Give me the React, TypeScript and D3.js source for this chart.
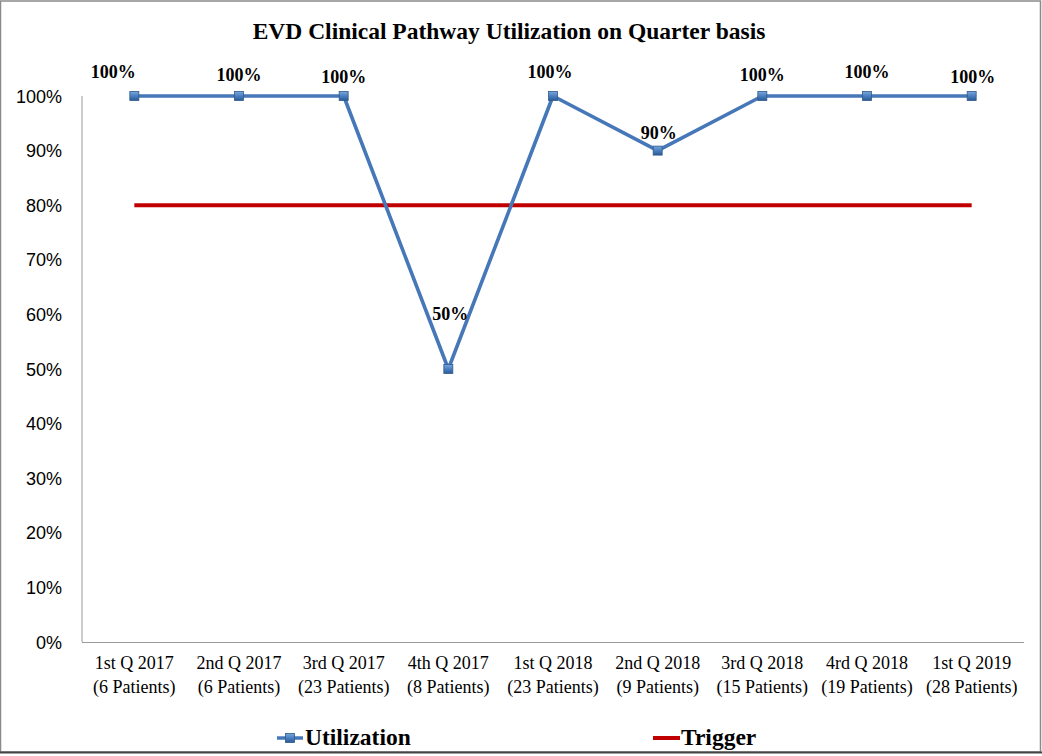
import React from "react";
import * as d3 from "d3";

const categories = [
  ["1st Q 2017", "(6 Patients)"],
  ["2nd Q 2017", "(6 Patients)"],
  ["3rd Q 2017", "(23 Patients)"],
  ["4th Q 2017", "(8 Patients)"],
  ["1st Q 2018", "(23 Patients)"],
  ["2nd Q 2018", "(9 Patients)"],
  ["3rd Q 2018", "(15 Patients)"],
  ["4rd Q 2018", "(19 Patients)"],
  ["1st Q 2019", "(28 Patients)"],
];
const utilization = [1, 1, 1, 0.5, 1, 0.9, 1, 1, 1];
const trigger = [0.8, 0.8, 0.8, 0.8, 0.8, 0.8, 0.8, 0.8, 0.8];
const yTicks = [0, 0.1, 0.2, 0.3, 0.4, 0.5, 0.6, 0.7, 0.8, 0.9, 1];
const labelNudge = [
  [-21, -18], [0, -15], [0, -13], [2, -49], [-3, -18], [1, -12], [0, -15], [0, -18], [1, -13],
];

const W = 1042, H = 756;
const left = 82, right = 1024, top = 96, bottom = 642;
const BLUE = "#4677B8";
const RED = "#C00000";

export default function App() {
  const x = d3.scaleBand<number>().domain(d3.range(categories.length)).range([left, right]);
  const y = d3.scaleLinear().domain([0, 1]).range([bottom, top]);
  const cx = (i: number) => (x(i) as number) + x.bandwidth() / 2;
  const line = d3.line<number>().x((_, i) => cx(i)).y((d) => y(d));
  const times = "'Liberation Serif', 'Times New Roman', serif";
  const sans = "'Liberation Sans', Arial, sans-serif";
  const pct = d3.format(".0%");

  const marker = (px: number, py: number, key: any) => (
    <rect key={key} x={px - 4.5} y={py - 4.5} width={9} height={9} fill="url(#mk)" stroke="#2F5A8A" strokeWidth={0.8} />
  );

  return (
    <svg width={W} height={H} style={{ position: "absolute", left: 0, top: 0, background: "#fff" }}>
      <defs>
        <linearGradient id="mk" x1="0" y1="0" x2="0" y2="1">
          <stop offset="0" stopColor="#7AA6DC" />
          <stop offset="0.5" stopColor="#4A7FC0" />
          <stop offset="1" stopColor="#2B5A94" />
        </linearGradient>
      </defs>
      <rect x={0.5} y={1} width={W - 2} height={751} fill="#fff" stroke="#8a8a8a" strokeWidth={1.5} />
      <line x1={0} x2={W} y1={752.5} y2={752.5} stroke="#444" strokeWidth={2} />
      <text x={509} y={39} textAnchor="middle" fontFamily={times} fontWeight="bold" fontSize={23.5}>
        EVD Clinical Pathway Utilization on Quarter basis
      </text>
      {yTicks.map((t) => (
        <text key={t} x={62} y={y(t) + 6.5} textAnchor="end" fontFamily={sans} fontSize={18}>
          {pct(t)}
        </text>
      ))}
      <line x1={left} x2={left} y1={top} y2={bottom} stroke="#999" strokeWidth={1} />
      <line x1={left} x2={right} y1={bottom + 0.5} y2={bottom + 0.5} stroke="#999" strokeWidth={1} />
      {categories.map((c, i) => (
        <text key={i} textAnchor="middle" fontFamily={times} fontSize={18}>
          <tspan x={cx(i)} y={669}>{c[0]}</tspan>
          <tspan x={cx(i)} y={693}>{c[1]}</tspan>
        </text>
      ))}
      <path d={line(trigger) as string} fill="none" stroke={RED} strokeWidth={4} />
      <path d={line(utilization) as string} fill="none" stroke={BLUE} strokeWidth={3.6} strokeLinejoin="round" />
      {utilization.map((v, i) => marker(cx(i), y(v), i))}
      {utilization.map((v, i) => (
        <text key={"l" + i} x={cx(i) + labelNudge[i][0]} y={y(v) + labelNudge[i][1]} textAnchor="middle"
          fontFamily={times} fontWeight="bold" fontSize={18}>
          {pct(v)}
        </text>
      ))}
      <g>
        <line x1={277} x2={303} y1={738} y2={738} stroke={BLUE} strokeWidth={3.5} />
        {marker(290, 738, "lg")}
        <text x={305} y={745} fontFamily={times} fontWeight="bold" fontSize={23.5}>Utilization</text>
        <line x1={653} x2={680} y1={738} y2={738} stroke={RED} strokeWidth={4} />
        <text x={681} y={745} fontFamily={times} fontWeight="bold" fontSize={23.5}>Trigger</text>
      </g>
    </svg>
  );
}
